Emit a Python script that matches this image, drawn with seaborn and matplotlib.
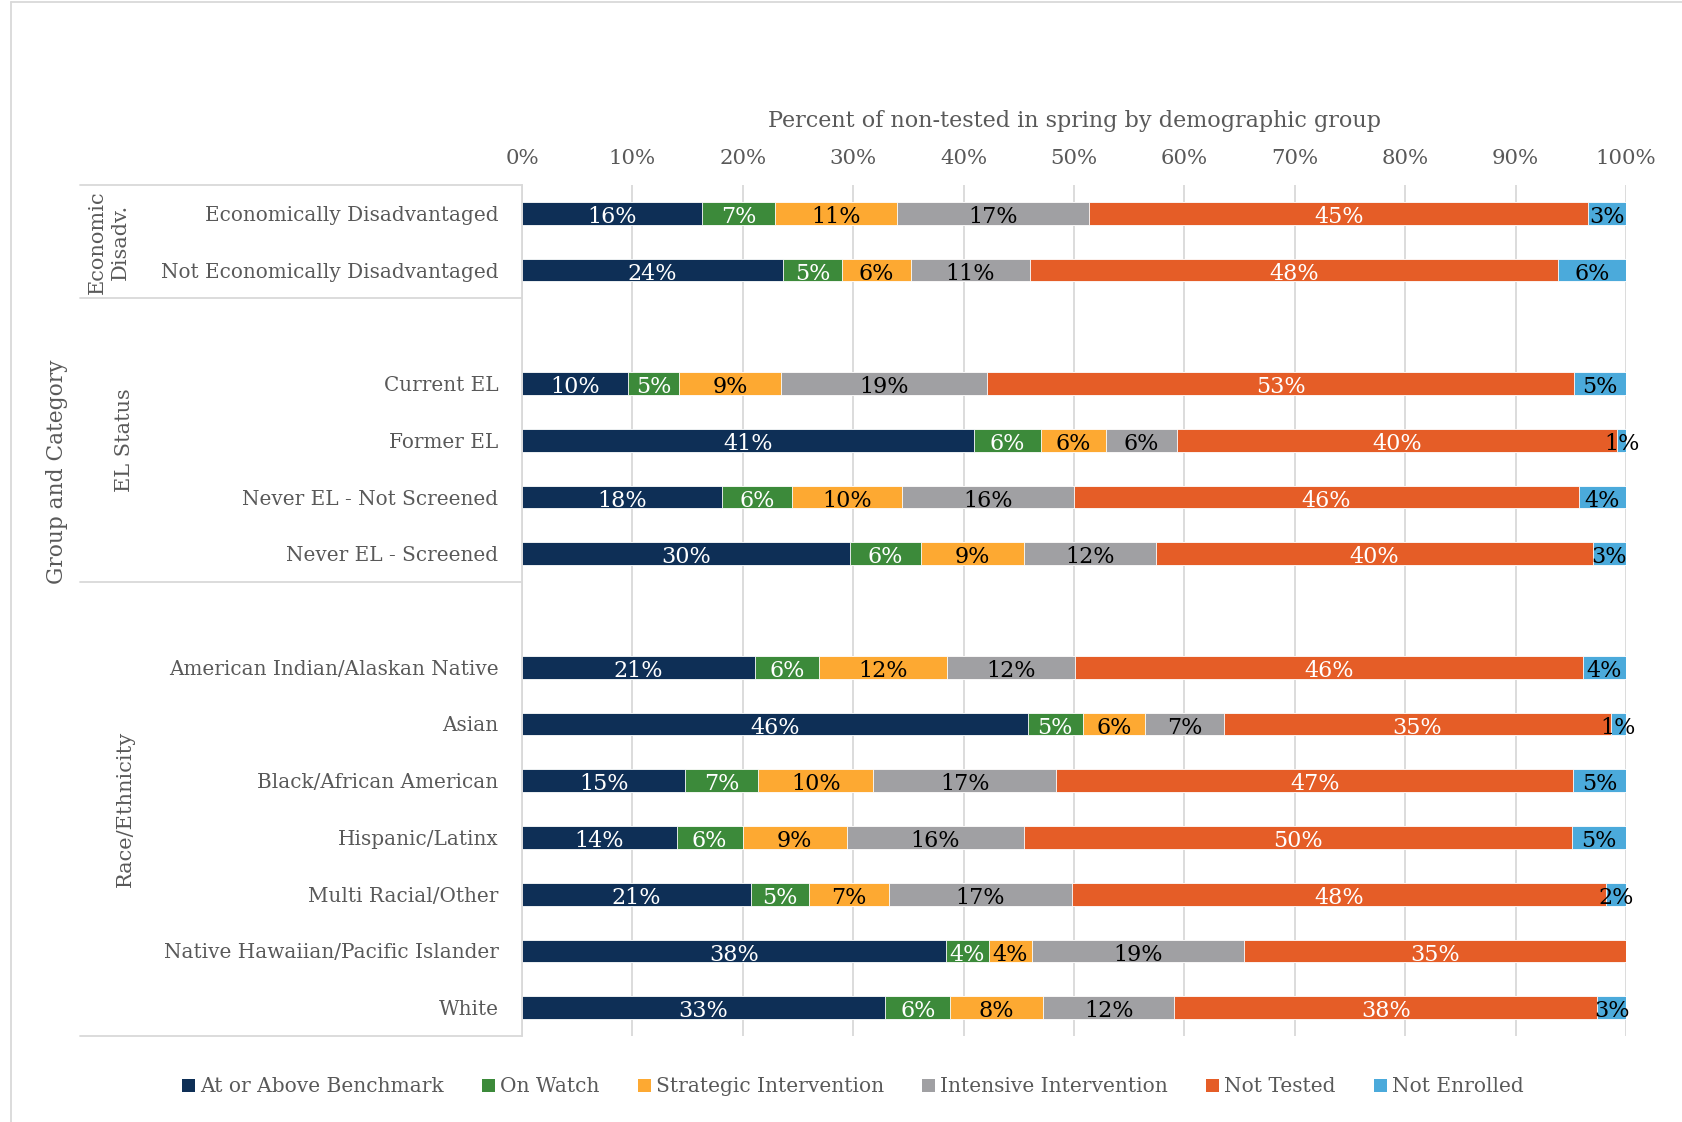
import seaborn as sns
import matplotlib.pyplot as plt
from matplotlib.patches import Patch
from matplotlib.lines import Line2D

# rows of the chart, top to bottom
rows = ["Economically Disadvantaged", "Not Economically Disadvantaged",
        "Current EL", "Former EL", "Never EL - Not Screened", "Never EL - Screened",
        "American Indian/Alaskan Native", "Asian", "Black/African American",
        "Hispanic/Latinx", "Multi Racial/Other", "Native Hawaiian/Pacific Islander", "White"]

# percent shares per status
at_or_above = [16.3, 23.6, 9.6, 40.9, 18.1, 29.7, 21.1, 45.8, 14.8, 14.0, 20.7, 38.4, 32.9]
on_watch = [6.6, 5.4, 4.6, 6.1, 6.4, 6.4, 5.8, 5.0, 6.6, 6.0, 5.3, 3.9, 5.9]
strategic = [11.1, 6.2, 9.3, 5.9, 9.9, 9.4, 11.6, 5.6, 10.4, 9.4, 7.2, 3.9, 8.4]
intensive = [17.4, 10.8, 18.6, 6.4, 15.6, 11.9, 11.6, 7.2, 16.6, 16.1, 16.6, 19.2, 11.9]
not_tested = [45.2, 47.8, 53.2, 39.9, 45.7, 39.6, 46.0, 35.0, 46.8, 49.6, 48.4, 34.6, 38.3]
not_enrolled = [3.4, 6.2, 4.7, 0.8, 4.3, 3.0, 3.9, 1.4, 4.8, 4.9, 1.8, 0.0, 2.6]

series_names = ["At or Above Benchmark", "On Watch", "Strategic Intervention",
                "Intensive Intervention", "Not Tested", "Not Enrolled"]
series_vals = [at_or_above, on_watch, strategic, intensive, not_tested, not_enrolled]
colors = ["#0E2F56", "#3C8A3A", "#FDA932", "#A0A0A3", "#E55D27", "#4BAADB"]
label_colors = ["white", "white", "black", "black", "white", "black"]

groups = ["Economic\nDisadv.", "EL Status", "Race/Ethnicity"]

# category order with blank spacer slots between groups
order = rows[0:2] + [" "] + rows[2:6] + ["  "] + rows[6:]

sns.set_theme(style="white")
plt.rcParams['font.family'] = ['DejaVu Serif']
grey = "#595959"

fig = plt.figure(figsize=(16.82, 11.22), dpi=100)
ax = fig.add_axes([522 / 1682, 1 - 1036 / 1122, 1104 / 1682, 851 / 1122])

# stacked bars: draw cumulative totals, longest first
cums = []
run = [0.0] * len(rows)
for vals in series_vals:
    run = [r + v for r, v in zip(run, vals)]
    cums.append(list(run))

for i in range(len(series_vals) - 1, -1, -1):
    sns.barplot(x=cums[i], y=rows, order=order, orient='h', color=colors[i],
                saturation=1, width=0.4, edgecolor='white', linewidth=0.6, ax=ax)

# value labels
for i, vals in enumerate(series_vals):
    starts = [c - v for c, v in zip(cums[i], vals)]
    for r, v, s in zip(rows, vals, starts):
        if v <= 0:
            continue
        ax.text(s + v / 2, order.index(r) + 0.02, f"{round(v)}%", ha='center',
                va='center_baseline', fontsize=16, color=label_colors[i])

ax.set_xlim(0, 100)
ax.set_ylim(len(order) - 0.5, -0.5)
ax.set_xticks(range(0, 101, 10))
ax.set_xticklabels([f"{t}%" for t in range(0, 101, 10)])
ax.xaxis.tick_top()
ax.xaxis.set_label_position('top')
ax.set_xlabel("Percent of non-tested in spring by demographic group",
              fontsize=16, color=grey, labelpad=16)
ax.set_ylabel("")
ax.tick_params(axis='x', length=0, pad=12, labelsize=15.3, labelcolor=grey)
ax.tick_params(axis='y', length=0, pad=17, labelsize=14.4, labelcolor=grey)
ax.grid(axis='x', color='#D9D9D9', linewidth=1.3)
ax.set_axisbelow(True)
for side in ['top', 'right', 'bottom']:
    ax.spines[side].set_visible(False)
ax.spines['left'].set_color('#D9D9D9')
ax.spines['left'].set_linewidth(1.3)

# table lines of the group column
x0 = (80 - 522) / 1104
ytr = ax.get_yaxis_transform()
for yb in [-0.5, 1.5, 6.5, len(order) - 0.5]:
    ax.plot([x0, 0], [yb, yb], transform=ytr, color='#D9D9D9', linewidth=1.3, clip_on=False)

group_pos = [(109, 0.5), (125, 4.0), (125, 10.5)]
for g, (px, yc) in zip(groups, group_pos):
    ax.text((px - 522) / 1104, yc, g, transform=ytr, rotation=90, ha='center', va='center',
            fontsize=15, color=grey, linespacing=1.3)

fig.text(57 / 1682, 1 - 472 / 1122, "Group and Category", rotation=90, ha='center',
         va='center', fontsize=15.7, color=grey)

# chart border (left and top)
fig.add_artist(Line2D([11 / 1682, 11 / 1682], [0, 1 - 2 / 1122], color='#D9D9D9', linewidth=1.3))
fig.add_artist(Line2D([11 / 1682, 1], [1 - 2 / 1122, 1 - 2 / 1122], color='#D9D9D9', linewidth=1.3))

handles = [Patch(facecolor=c, edgecolor='none', label=n) for c, n in zip(colors, series_names)]
leg = fig.legend(handles=handles, loc='center', bbox_to_anchor=(853 / 1682, 1 - 1087 / 1122),
                 ncol=6, frameon=False, fontsize=14.5, handlelength=0.65, handleheight=0.65,
                 handletextpad=0.25, columnspacing=1.9)
for t in leg.get_texts():
    t.set_color(grey)

fig.savefig("out.png", dpi=100, facecolor='white')
